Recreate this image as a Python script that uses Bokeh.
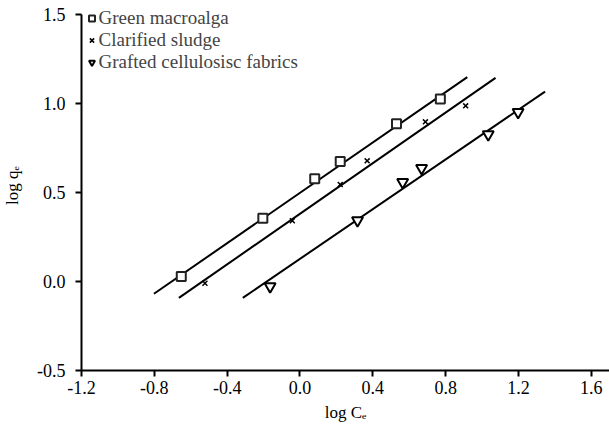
from bokeh.plotting import figure
from bokeh.models import Range1d, FixedTicker, Legend, LegendItem
from bokeh.embed import file_html
from bokeh.resources import INLINE

# ---- data ----
green_x = [-0.652, -0.204, 0.081, 0.221, 0.530, 0.771]
green_y = [0.028, 0.356, 0.577, 0.674, 0.886, 1.026]
sludge_x = [-0.522, -0.042, 0.221, 0.369, 0.689, 0.910]
sludge_y = [-0.010, 0.341, 0.545, 0.678, 0.897, 0.987]
fabric_x = [-0.164, 0.316, 0.564, 0.668, 1.034, 1.198]
fabric_y = [-0.028, 0.343, 0.558, 0.637, 0.826, 0.951]

# fitted lines (end points)
green_fit_x = [-0.802, 0.919]
green_fit_y = [-0.069, 1.148]
sludge_fit_x = [-0.665, 1.074]
sludge_fit_y = [-0.092, 1.144]
fabric_fit_x = [-0.314, 1.346]
fabric_fit_y = [-0.092, 1.067]

series_names = ["Green macroalga", "Clarified sludge", "Grafted cellulosisc fabrics"]

x_ticks = [-1.2, -0.8, -0.4, 0.0, 0.4, 0.8, 1.2, 1.6]
x_tick_labels = ["-1.2", "-0.8", "-0.4", "0.0", "0.4", "0.8", "1.2", "1.6"]
y_ticks = [-0.5, 0.0, 0.5, 1.0, 1.5]
y_tick_labels = ["-0.5", "0.0", "0.5", "1.0", "1.5"]

x_title = "log C\u2091"
y_title = "log q\u2091"

FONT = "Liberation Serif"

# y range extends a little above 1.5 so the legend is not clipped; the axis itself stops at 1.5
p = figure(width=609, height=427, output_backend="svg", toolbar_location=None,
           x_range=Range1d(-1.2, 1.7), y_range=Range1d(-0.5, 1.5787),
           min_border_left=80, min_border_right=0, min_border_top=0, min_border_bottom=57)
p.outline_line_color = None
p.grid.visible = False
p.background_fill_color = "white"
p.border_fill_color = "white"

for ax in (p.xaxis[0], p.yaxis[0]):
    ax.axis_line_width = 2
    ax.axis_line_color = "black"
    ax.major_tick_line_width = 2
    ax.major_tick_line_color = "black"
    ax.major_tick_out = 6
    ax.major_tick_in = 0
    ax.minor_tick_line_color = None
    ax.major_label_text_font = FONT
    ax.major_label_text_font_size = "18px"
    ax.major_label_text_color = "black"
    ax.axis_label_text_font = FONT
    ax.axis_label_text_font_size = "17px"
    ax.axis_label_text_font_style = "normal"
    ax.axis_label_text_color = "black"

p.xaxis[0].ticker = FixedTicker(ticks=x_ticks)
p.xaxis[0].major_label_overrides = {t: s for t, s in zip(x_ticks, x_tick_labels)}
p.xaxis[0].major_label_standoff = 4
p.xaxis[0].axis_label = x_title
p.xaxis[0].axis_label_standoff = 6
p.yaxis[0].ticker = FixedTicker(ticks=y_ticks)
p.yaxis[0].major_label_overrides = {t: s for t, s in zip(y_ticks, y_tick_labels)}
p.yaxis[0].major_label_standoff = 10
p.yaxis[0].bounds = (y_ticks[0], y_ticks[-1])
p.yaxis[0].axis_label = y_title
p.yaxis[0].axis_label_standoff = 12

# fitted lines
for fx, fy in ((green_fit_x, green_fit_y), (sludge_fit_x, sludge_fit_y), (fabric_fit_x, fabric_fit_y)):
    p.line(fx, fy, line_color="black", line_width=2)

r1 = p.scatter(green_x, green_y, marker="square", size=9, fill_color="white",
               line_color="#222222", line_width=2)
r2 = p.scatter(sludge_x, sludge_y, marker="x", size=7, line_color="black", line_width=1.5)
r3 = p.scatter(fabric_x, fabric_y, marker="inverted_triangle", size=11, fill_color="white",
               line_color="black", line_width=2)

legend = Legend(items=[LegendItem(label=series_names[0], renderers=[r1]),
                       LegendItem(label=series_names[1], renderers=[r2]),
                       LegendItem(label=series_names[2], renderers=[r3])],
                location=(2.5, 297), padding=0, spacing=0, margin=0,
                glyph_width=15, glyph_height=22, label_height=22, label_standoff=0,
                label_text_font=FONT, label_text_font_size="19px",
                border_line_color=None, background_fill_alpha=0)
p.add_layout(legend, "center")

open("out.html", "w").write(file_html(p, INLINE))
